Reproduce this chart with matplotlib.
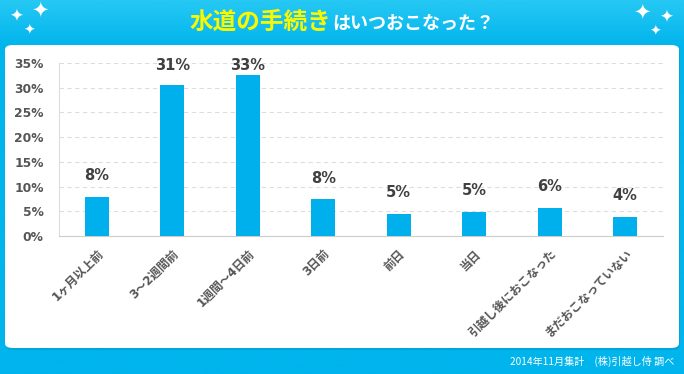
import numpy as np
import matplotlib
matplotlib.use("Agg")
import matplotlib.pyplot as plt
from matplotlib.patches import FancyBboxPatch

plt.rcParams['font.family'] = ['Noto Sans CJK JP', 'DejaVu Sans']
NUM_FONT = ['DejaVu Sans', 'Noto Sans CJK JP']

# data
categories = ["1ヶ月以上前", "3～2週間前", "1週間～4日前", "3日前", "前日", "当日",
              "引越し後におこなった", "まだおこなっていない"]
values = [7.9, 30.5, 32.5, 7.4, 4.5, 4.9, 5.7, 3.9]
value_labels = ["8%", "31%", "33%", "8%", "5%", "5%", "6%", "4%"]
yticks = [0, 5, 10, 15, 20, 25, 30, 35]

W, H = 684, 374
fig = plt.figure(figsize=(W / 100, H / 100), dpi=100)

# background gradient (axes covering whole figure, so data coords = figure coords)
bg = fig.add_axes([0, 0, 1, 1], zorder=0)
t = np.clip(np.linspace(0, 1, 256) * 8, 0, 1)
top_col = np.array([0x26, 0xc8, 0xf4]) / 255
bot_col = np.array([0x00, 0xb4, 0xec]) / 255
img = (top_col[None, :] + (bot_col - top_col)[None, :] * t[:, None])[:, None, :]
bg.imshow(img, aspect='auto', extent=[0, 1, 0, 1], origin='upper')
bg.set_xlim(0, 1)
bg.set_ylim(0, 1)
bg.axis('off')

# white panel with soft shadow
bg.add_patch(FancyBboxPatch((6 / W, 1 - 350 / H), 674 / W, 303 / H,
                            boxstyle="round,pad=0,rounding_size=0.012",
                            fc='#0090c0', ec='none', alpha=0.4))
bg.add_patch(FancyBboxPatch((5 / W, 1 - 348 / H), 674 / W, 303 / H,
                            boxstyle="round,pad=0,rounding_size=0.012",
                            fc='white', ec='none'))

# sparkles
for x, y, s in [(16, 17, 12), (40, 11, 15), (29, 31, 10),
                (642, 13, 15), (666, 18, 12), (655, 32, 10)]:
    bg.text(x / W, 1 - y / H, "✦", color='white', fontsize=s, ha='center', va='center',
            family='DejaVu Sans')

# title
bg.text(331 / W, 1 - 22 / H, "水道の手続き", color='#f8f800', fontsize=17,
        fontweight='bold', ha='right', va='center')
bg.text(332 / W, 1 - 23 / H, "はいつおこなった？", color='white', fontsize=13,
        fontweight='bold', ha='left', va='center')

# footer
bg.text(674 / W, 1 - 361 / H, "2014年11月集計　(株)引越し侍 調べ", color='white',
        fontsize=7.3, ha='right', va='center')

ax = fig.add_axes([59 / W, 1 - 236 / H, 604 / W, 173 / H], zorder=2)
ax.set_facecolor('none')
x = np.arange(len(categories))
ax.bar(x, values, width=0.32, color='#00b0ec', zorder=3)
# labels sit ~21px above the bar, but stay inside the plot area
for xi, v, lab in zip(x, values, value_labels):
    ax.text(xi, min(v + 4.25, 34.4), lab, ha='center', va='center', fontsize=10.5,
            fontweight='bold', color='#404040', family=NUM_FONT)

ax.set_xlim(-0.5, len(categories) - 0.5)
ax.set_ylim(0, 35)
ax.set_yticks(yticks)
ax.set_yticklabels([f"{t}%" for t in yticks], fontsize=8.8, fontweight='bold',
                   color='#555555', family=NUM_FONT)
ax.yaxis.grid(True, color='#dddddd', linestyle=(0, (4, 3)), linewidth=0.8, zorder=0)
ax.tick_params(axis='y', length=0, pad=11)
ax.tick_params(axis='x', length=0, pad=8)
ax.set_xticks(x)
ax.set_xticklabels(categories, rotation=45, ha='right', va='top', rotation_mode='anchor',
                   fontsize=8.5, fontweight='bold', color='#555555', family=NUM_FONT)
for side in ['top', 'right']:
    ax.spines[side].set_visible(False)
ax.spines['left'].set_color('#dddddd')
ax.spines['bottom'].set_color('#cccccc')

fig.savefig('out.png', dpi=100)
